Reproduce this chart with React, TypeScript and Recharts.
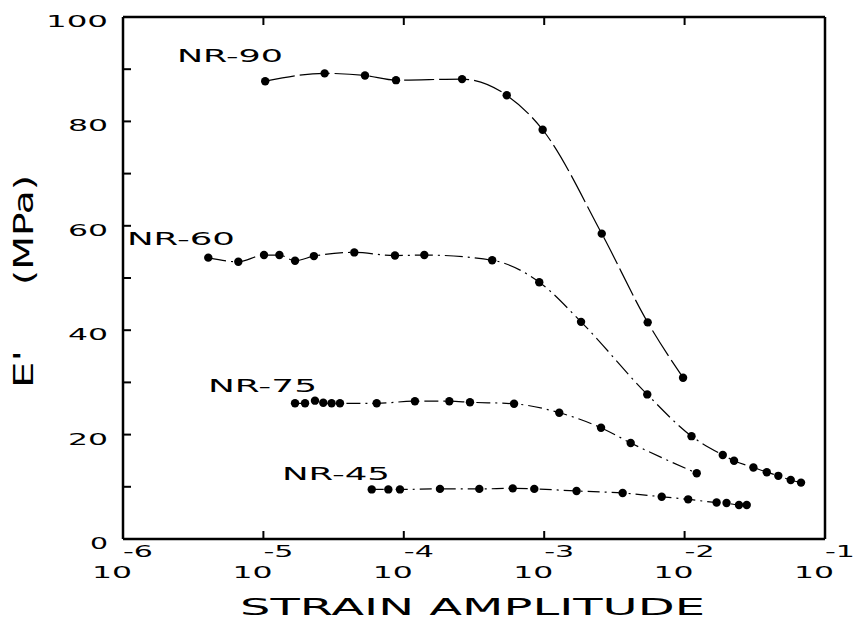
import React from "react";
import { LineChart, Line, XAxis, YAxis } from "recharts";

// strain amplitude (x) and E' in MPa (y)
const nr90X = [1.03e-5, 2.73e-5, 5.29e-5, 8.8e-5, 2.6e-4, 5.41e-4, 9.75e-4, 2.57e-3, 5.46e-3, 9.75e-3];
const nr90Y = [87.7, 89.2, 88.8, 87.9, 88.1, 85.0, 78.4, 58.5, 41.5, 30.9];

const nr60X = [4.05e-6, 6.63e-6, 1.01e-5, 1.3e-5, 1.68e-5, 2.29e-5, 4.44e-5, 8.65e-5, 1.4e-4, 4.26e-4, 9.22e-4, 1.83e-3, 5.42e-3, 1.12e-2, 1.87e-2, 2.25e-2, 3.09e-2, 3.85e-2, 4.65e-2, 5.7e-2, 6.75e-2];
const nr60Y = [53.9, 53.1, 54.4, 54.4, 53.3, 54.2, 54.9, 54.3, 54.4, 53.4, 49.2, 41.6, 27.7, 19.7, 16.1, 15.0, 13.7, 12.8, 12.1, 11.3, 10.8];

const nr75X = [1.68e-5, 1.98e-5, 2.33e-5, 2.67e-5, 3.06e-5, 3.51e-5, 6.41e-5, 1.2e-4, 2.11e-4, 2.96e-4, 6.1e-4, 1.28e-3, 2.54e-3, 4.13e-3, 1.22e-2];
const nr75Y = [26.0, 26.0, 26.5, 26.1, 26.0, 26.0, 26.0, 26.4, 26.4, 26.2, 25.9, 24.2, 21.3, 18.4, 12.6];

const nr45X = [5.91e-5, 7.76e-5, 9.39e-5, 1.81e-4, 3.45e-4, 5.97e-4, 8.5e-4, 1.7e-3, 3.62e-3, 6.87e-3, 1.06e-2, 1.69e-2, 1.99e-2, 2.44e-2, 2.77e-2];
const nr45Y = [9.5, 9.5, 9.5, 9.6, 9.6, 9.7, 9.6, 9.2, 8.8, 8.1, 7.6, 7.0, 6.9, 6.5, 6.5];

const xTicks = [1e-6, 1e-5, 1e-4, 1e-3, 1e-2, 1e-1];
const xExponents = ["-6", "-5", "-4", "-3", "-2", "-1"];
const yTicks = [0, 10, 20, 30, 40, 50, 60, 70, 80, 90, 100];
const yLabels = ["0", "", "20", "", "40", "", "60", "", "80", "", "100"];

const toPoints = (xs: number[], ys: number[]) => xs.map((x, i) => ({ x, y: ys[i] }));

const series = [
  { name: "NR-90", data: toPoints(nr90X, nr90Y), dash: "30 5" },
  { name: "NR-60", data: toPoints(nr60X, nr60Y), dash: "18 5 2 5" },
  { name: "NR-75", data: toPoints(nr75X, nr75Y), dash: "14 5 2 5" },
  { name: "NR-45", data: toPoints(nr45X, nr45Y), dash: "12 5 2 5" },
];

const font = "'DejaVu Sans', sans-serif";
const TICK = 8; // inward tick length

function BottomTick(props: any) {
  const { x, y, payload } = props;
  const i = xTicks.indexOf(payload.value);
  return (
    <g>
      <path d={`M${x},${y}V${y - TICK}`} stroke="#000" strokeWidth={2} fill="none" />
      <text x={x - 31} y={y + 39} fontSize={16} fontFamily={font} textLength={40} lengthAdjust="spacingAndGlyphs">10</text>
      <text x={x} y={y + 18} fontSize={15} fontFamily={font} textLength={30} lengthAdjust="spacingAndGlyphs">{xExponents[i]}</text>
    </g>
  );
}

function TopTick(props: any) {
  const { x, y } = props;
  return <path d={`M${x},${y}V${y + TICK}`} stroke="#000" strokeWidth={2} fill="none" />;
}

function LeftTick(props: any) {
  const { x, y, payload } = props;
  const i = yTicks.indexOf(payload.value);
  const label = yLabels[i];
  return (
    <g>
      <path d={`M${x},${y}H${x + TICK}`} stroke="#000" strokeWidth={2} fill="none" />
      {label && (
        <text x={x - 15} y={y + 10} fontSize={16} fontFamily={font} textAnchor="end" textLength={label.length * 22 - 4} lengthAdjust="spacingAndGlyphs">
          {label}
        </text>
      )}
    </g>
  );
}

function RightTick(props: any) {
  const { x, y } = props;
  return <path d={`M${x},${y}H${x - TICK}`} stroke="#000" strokeWidth={2} fill="none" />;
}

const Dot = (props: any) => {
  const { cx, cy, index } = props;
  if (cx == null || cy == null) return <g key={index} />;
  return <circle key={index} cx={cx} cy={cy} r={4.2} fill="#000" />;
};

const labels = [
  { text: "NR-90", x: 177, y: 62, w: 106 },
  { text: "NR-60", x: 127, y: 245, w: 108 },
  { text: "NR-75", x: 208, y: 392, w: 109 },
  { text: "NR-45", x: 282, y: 480, w: 108 },
];

const axisLine = { stroke: "#000", strokeWidth: 2.5 };

export default function App() {
  return (
    <div style={{ position: "absolute", left: 0, top: 0, background: "#fff" }}>
      <LineChart width={854} height={619} margin={{ top: 12, right: 24, bottom: 20, left: 63 }}>
        <XAxis xAxisId="b" dataKey="x" type="number" scale="log" domain={[1e-6, 1e-1]} ticks={xTicks} allowDataOverflow
          height={60} tickSize={0} tickMargin={0} tickLine={false} tick={<BottomTick />} axisLine={axisLine} />
        <XAxis xAxisId="t" orientation="top" dataKey="x" type="number" scale="log" domain={[1e-6, 1e-1]} ticks={xTicks} allowDataOverflow
          height={5} tickSize={0} tickMargin={0} tickLine={false} tick={<TopTick />} axisLine={axisLine} />
        <YAxis yAxisId="l" type="number" domain={[0, 100]} ticks={yTicks}
          width={60} tickSize={0} tickMargin={0} tickLine={false} tick={<LeftTick />} axisLine={axisLine} />
        <YAxis yAxisId="r" orientation="right" type="number" domain={[0, 100]} ticks={yTicks}
          width={5} tickSize={0} tickMargin={0} tickLine={false} tick={<RightTick />} axisLine={axisLine} />
        {series.map((s) => (
          <Line
            key={s.name}
            xAxisId="b"
            yAxisId="l"
            data={s.data}
            dataKey="y"
            type="monotone"
            stroke="#000"
            strokeWidth={1.2}
            strokeDasharray={s.dash}
            dot={<Dot />}
            activeDot={false}
            isAnimationActive={false}
          />
        ))}
        {labels.map((l) => (
          <text key={l.text} x={l.x} y={l.y} fontSize={18} fontFamily={font} textLength={l.w} lengthAdjust="spacingAndGlyphs">
            {l.text}
          </text>
        ))}
        <text x={240} y={615} fontSize={23} fontFamily={font} textLength={465} lengthAdjust="spacingAndGlyphs">
          STRAIN AMPLITUDE
        </text>
        <g transform="rotate(-90, 33, 281.5)">
          <text x={33 - 106.5} y={281.5} fontSize={26} fontFamily={font} textLength={38} lengthAdjust="spacingAndGlyphs">
            E'
          </text>
          <text x={33 + 106.5} y={281.5} fontSize={26} fontFamily={font} textAnchor="end" textLength={110} lengthAdjust="spacingAndGlyphs">
            (MPa)
          </text>
        </g>
      </LineChart>
    </div>
  );
}
